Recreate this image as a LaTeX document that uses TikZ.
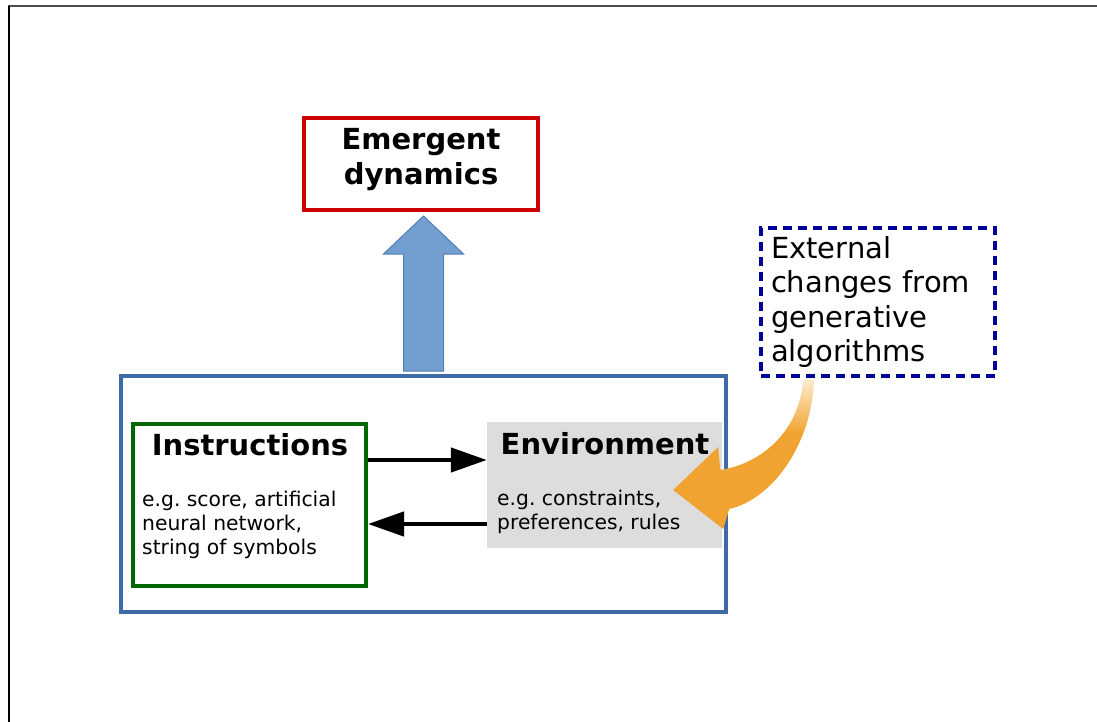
\documentclass[tikz,border=0pt]{standalone}
\usepackage{fontspec}
\setmainfont{DejaVu Sans}
\usetikzlibrary{arrows.meta,calc}
\definecolor{emred}{RGB}{204,0,0}
\definecolor{insgreen}{RGB}{0,102,0}
\definecolor{sysblue}{RGB}{62,106,166}
\definecolor{upfill}{RGB}{114,159,207}
\definecolor{upedge}{RGB}{80,126,186}
\definecolor{extnavy}{RGB}{0,0,153}
\definecolor{envgray}{RGB}{221,221,221}
\definecolor{genorange}{RGB}{240,163,48}
\definecolor{genpale}{RGB}{253,236,205}
\pgfdeclareverticalshading{genfade}{100bp}{color(0bp)=(genorange); color(57bp)=(genorange); color(75bp)=(genpale); color(100bp)=(genpale)}
\frenchspacing
\begin{document}
\begin{tikzpicture}[x=1pt,y=-1pt,>={Triangle[length=36pt,width=24pt]}]
	\def \boxw{234}
	\tikzstyle{big}=[font=\bfseries\fontsize{29}{35}\selectfont]
	\tikzstyle{small}=[font=\fontsize{20.3}{24}\selectfont,align=left,inner sep=0pt,anchor=north west]
	\tikzstyle{e-box}=[draw=emred,line width=4pt,minimum width=\boxw,minimum height=92,inner sep=0pt]
	\tikzstyle{s-box}=[draw=sysblue,line width=4pt,minimum width=605,minimum height=236]
	\tikzstyle{i-box}=[draw=insgreen,line width=4pt,minimum width=233,minimum height=162]
	\tikzstyle{v-box}=[fill=envgray,minimum width=235,minimum height=126]
	\tikzstyle{x-box}=[draw=extnavy,line width=4pt,dash pattern=on 9pt off 6pt,minimum width=\boxw,minimum height=148,
		text width=214,inner xsep=10,align=left,font=\fontsize{29}{34.5}\selectfont]
	\tikzstyle{flow}=[->,line width=4.5pt,black]
	\tikzstyle{up-arrow}=[fill=upfill,draw=upedge,line width=1pt,line join=miter]

	\useasboundingbox (0,0) rectangle (1097,722);
	% page edges
	\draw[gray!60!black,line width=2pt] (8,6) -- (1097,6);
	\draw[black,line width=1.5pt] (9,6) -- (9,722);

	% boxes
	\node[s-box] 	(sys)		at (423.5,494)		{};
	\node[i-box] 	(instr)		at (249.5,505)		{};
	\node[v-box] 	(env)		at (604.5,485)		{};
	\node[e-box] 	(emerge)	at (421,164)		{};
	\node[x-box] 	(ext)		at (878,302)		{External\\changes from\\generative\\algorithms};

	% labels
	\node[big,align=center] 	(emerge-text)	at (421,160)	{Emergent\\dynamics};
	\node[big] 	(instr-title)	at (250,445)	{Instructions};
	\node[big] 	(env-title)	at (605,444)	{Environment};
	\node[small] 	(instr-text)	at (142,491)	{e.g. score, artificial\\neural network,\\string of symbols};
	\node[small] 	(env-text)	at (497,490)	{e.g. constraints,\\preferences, rules};

	% instructions <-> environment
	\draw[flow] ([yshift=45pt]instr.east) -- ([yshift=45pt]instr.east -| env.west);
	\draw[flow] ([yshift=-39pt]env.west) -- ([yshift=-39pt]env.west -| instr.east);

	% system -> emergent dynamics
	\coordinate (a-foot) at ($(sys.north)+(0,-3)$);
	\coordinate (a-tip) at ($(sys.north |- emerge.south)+(0,4)$);
	\filldraw[up-arrow] ($(a-foot)+(-20,0)$) -- ($(a-tip)+(-20,38)$) -- ($(a-tip)+(-40,38)$) -- (a-tip)
		-- ($(a-tip)+(40,38)$) -- ($(a-tip)+(20,38)$) -- ($(a-foot)+(20,0)$) -- cycle;

	% external changes -> environment
	\coordinate (tail) at ($(ext.south)+(-70,1.5)$);
	\shade[shading=genfade]
		($(tail)+(6,0)$) .. controls ($(tail)+(4,65)$) and ($(tail)+(-36,120)$) .. ($(env.east)+(7,24)$)
		-- ($(env.east)+(1,44)$) -- ($(env.east)+(-49,5)$) -- ($(env.east)+(-4,-38)$) -- ($(env.east)+(-2,-15)$)
		.. controls ($(tail)+(-45,84)$) and ($(tail)+(-8,50)$) .. ($(tail)+(-5,0)$) -- cycle;
\end{tikzpicture}
\end{document}
